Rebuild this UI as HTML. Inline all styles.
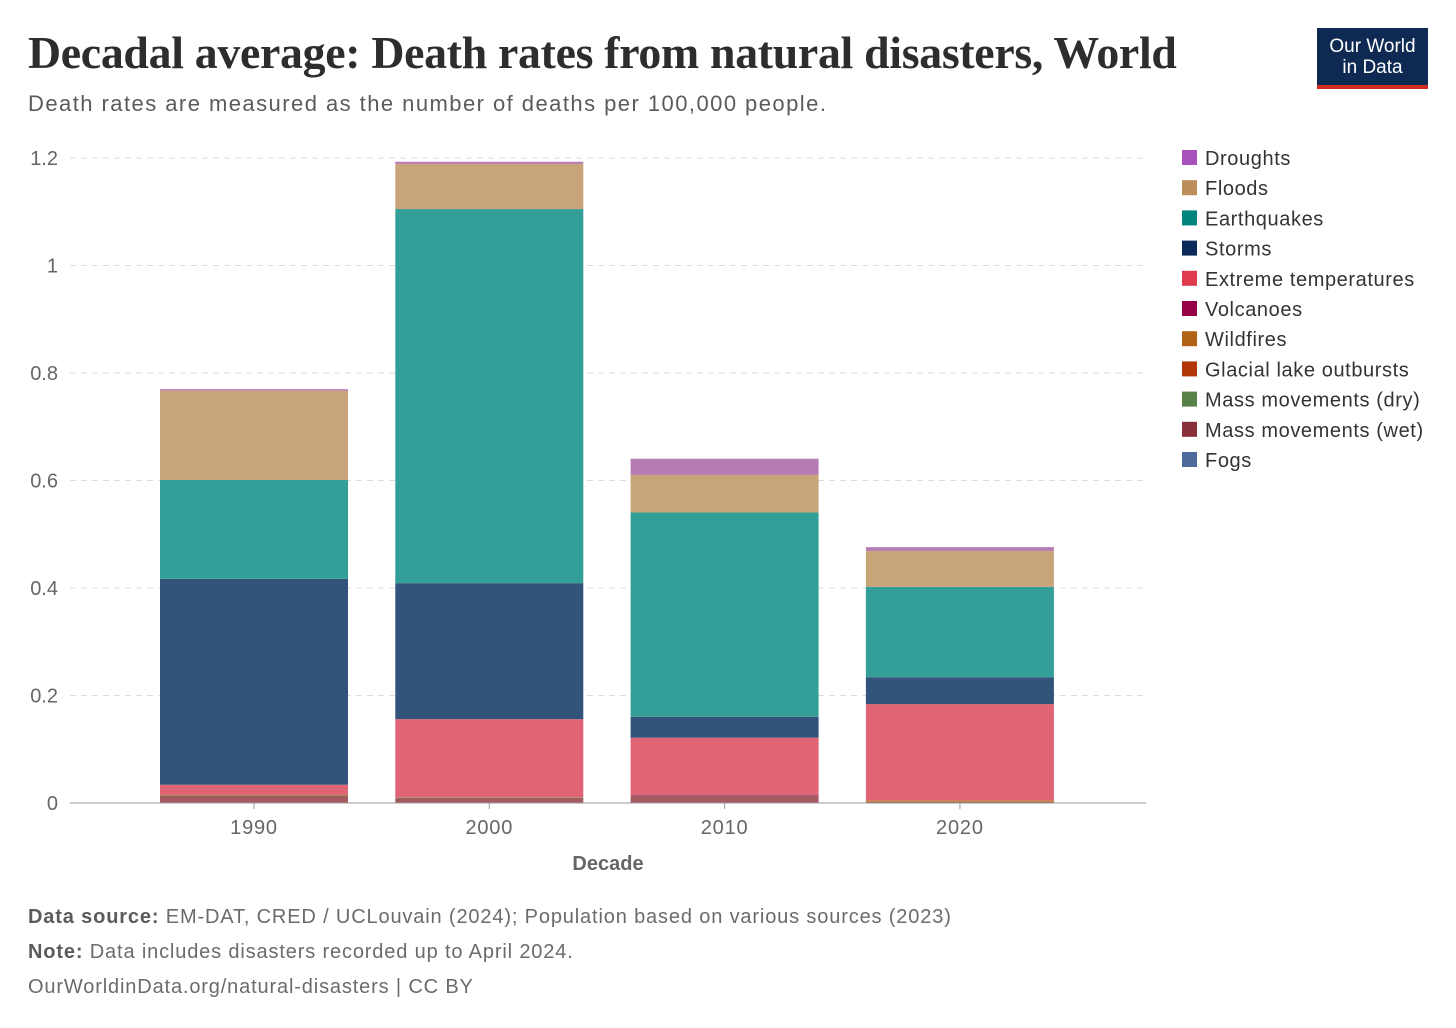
<!DOCTYPE html>
<html><head><meta charset="utf-8"><style>
body{margin:0;background:#fff;width:1456px;height:1028px;overflow:hidden;font-family:"Liberation Sans",sans-serif}
#title{position:absolute;left:28px;top:26px;font-family:"Liberation Serif",serif;font-weight:bold;font-size:45.8px;color:#2d2d2d;letter-spacing:-0.3px}
#sub{position:absolute;left:28px;top:91px;font-size:22px;color:#5b5b5b;letter-spacing:1.45px}
#logo{position:absolute;left:1317px;top:28px;width:111px;height:61px;background:#0f2a52;border-bottom:4px solid #d42b21;color:#fff;font-size:19px;text-align:center;line-height:21px;box-sizing:border-box;padding-top:8px}
.foot{position:absolute;left:28px;font-size:20px;color:#6b6b6b;letter-spacing:0.85px}
.foot b{color:#5b5b5b}
</style></head><body>
<div id="title">Decadal average: Death rates from natural disasters, World</div>
<div id="sub">Death rates are measured as the number of deaths per 100,000 people.</div>
<div id="logo">Our World<br>in Data</div>
<svg id="chart" width="1456" height="1028" style="position:absolute;left:0;top:0"></svg>
<div class="foot" style="top:906px"><b>Data source:</b> EM-DAT, CRED / UCLouvain (2024); Population based on various sources (2023)</div>
<div class="foot" style="top:941px"><b>Note:</b> Data includes disasters recorded up to April 2024.</div>
<div class="foot" style="top:976px">OurWorldinData.org/natural-disasters | CC BY</div>
<script>
const categories=["1990","2000","2010","2020"];
const seriesNames=["Fogs","Mass movements (wet)","Mass movements (dry)","Glacial lake outbursts","Wildfires","Volcanoes","Extreme temperatures","Storms","Earthquakes","Floods","Droughts"];
const fogs=[0,0,0,0];
const massWet=[0.013,0.010,0.013,0.002];
const massDry=[0.001,0.0005,0,0];
const glacial=[0,0,0,0];
const wildfires=[0.001,0.0005,0.0005,0.003];
const volcanoes=[0,0,0.002,0];
const extremeTemp=[0.019,0.145,0.106,0.179];
const storms=[0.383,0.253,0.039,0.05];
const earthquakes=[0.184,0.696,0.38,0.168];
const floods=[0.166,0.084,0.07,0.067];
const droughts=[0.003,0.004,0.03,0.007];
const yTicks=[0,0.2,0.4,0.6,0.8,1,1.2];
const yTickLabels=["0","0.2","0.4","0.6","0.8","1","1.2"];
const series=[fogs,massWet,massDry,glacial,wildfires,volcanoes,extremeTemp,storms,earthquakes,floods,droughts];
const barColors=["#4c6a9c","#a35b61","#6f9a5c","#c15f1f","#c07a3a","#a3325f","#e06473","#32547b","#339f98","#c8a579","#b77bb3"];
const legColors=["#4c6a9c","#883039","#578145","#b13507","#b16214","#970046","#e03a4e","#0a2a59","#00847e","#bc8e5a","#a652ba"];
const svg=document.getElementById('chart');const NS="http://www.w3.org/2000/svg";
function mk(t,a){const e=document.createElementNS(NS,t);for(const k in a)e.setAttribute(k,a[k]);svg.appendChild(e);return e;}
const y0=803,pxPer=537.5;function y(v){return y0-v*pxPer;}
const plotL=70,plotR=1146,barW=188,firstC=254,step=235.3;
function xc(i){return firstC+i*step;}
yTicks.forEach((t,i)=>{
 if(t>0){const g=mk('line',{x1:plotL,x2:plotR,y1:y(t),y2:y(t),stroke:'#dcdcdc','stroke-dasharray':'6,5'});
 
 }
 const tx=mk('text',{x:58,y:y(t)+7,'text-anchor':'end','font-size':20,fill:'#666','font-family':'Liberation Sans'});
 tx.textContent=yTickLabels[i];
 
 
});
categories.forEach((c,i)=>{
 let acc=0;const cx=xc(i);
 series.forEach((s,j)=>{const v=s[i];if(v<=0)return;
  const r=mk('rect',{x:cx-barW/2,y:y(acc+v),width:barW,height:v*pxPer,fill:barColors[j]});
  
  
  acc+=v;});
 const tk=mk('line',{x1:cx,x2:cx,y1:y0,y2:y0+6,stroke:'#999'});
 
 
 const tx=mk('text',{x:cx,y:y0+31,'text-anchor':'middle','font-size':20,fill:'#666','font-family':'Liberation Sans','letter-spacing':'0.8'});
 tx.textContent=c;
 
 
});
const ax=mk('line',{x1:plotL,x2:plotR,y1:y0,y2:y0,stroke:'#999'});


const xt=mk('text',{x:608,y:870,'text-anchor':'middle','font-size':20,'font-weight':'bold',fill:'#666','font-family':'Liberation Sans'});
xt.textContent='Decade';


for(let k=0;k<seriesNames.length;k++){
 const j=seriesNames.length-1-k;const ly=158+k*30.2;
 const sw=mk('rect',{x:1182,y:ly-8,width:15,height:15,fill:legColors[j]});
 
 
 const lt=mk('text',{x:1205,y:ly+7,'font-size':20,fill:'#333','font-family':'Liberation Sans','letter-spacing':'0.6'});
 lt.textContent=seriesNames[j];
 
 
}
</script>
</body></html>
